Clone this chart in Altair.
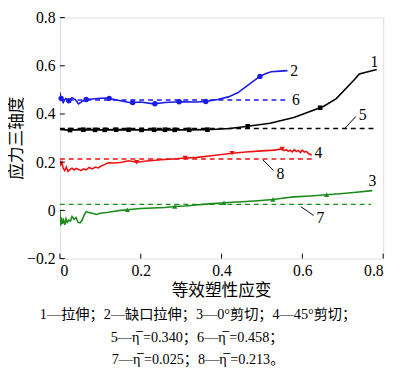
import altair as alt
import pandas as pd

# ---- data ----
c1_x = [0, 0.02, 0.05, 0.1, 0.15, 0.2, 0.25, 0.3, 0.365, 0.42, 0.465, 0.52, 0.579, 0.652, 0.684, 0.729, 0.741, 0.784]
c1_y = [0.336, 0.333, 0.335, 0.334, 0.335, 0.334, 0.335, 0.334, 0.335, 0.340, 0.349, 0.362, 0.385, 0.431, 0.464, 0.543, 0.566, 0.585]
c1_mx = [0.025, 0.058, 0.087, 0.111, 0.139, 0.17, 0.202, 0.233, 0.26, 0.284, 0.32, 0.365, 0.465, 0.644]

c2_x = [0, 0.003, 0.008, 0.014, 0.022, 0.03, 0.038, 0.046, 0.055, 0.065, 0.08, 0.1, 0.119, 0.14, 0.175, 0.2, 0.232,
        0.26, 0.296, 0.337, 0.361, 0.39, 0.417, 0.44, 0.458, 0.478, 0.495, 0.51, 0.523, 0.545, 0.563]
c2_y = [0.49, 0.465, 0.447, 0.464, 0.455, 0.468, 0.46, 0.442, 0.452, 0.46, 0.462, 0.465, 0.466, 0.458, 0.447, 0.45, 0.442,
        0.448, 0.451, 0.45, 0.452, 0.46, 0.471, 0.488, 0.51, 0.535, 0.556, 0.568, 0.575, 0.578, 0.58]
c2_mx = [0.003, 0.022, 0.065, 0.122, 0.18, 0.235, 0.295, 0.361, 0.495]

c3_x = [0, 0.002, 0.004, 0.006, 0.009, 0.012, 0.015, 0.018, 0.022, 0.026, 0.03, 0.035, 0.04, 0.045, 0.05, 0.055,
        0.06, 0.065, 0.07, 0.08, 0.09, 0.1, 0.11, 0.12, 0.135, 0.15, 0.167, 0.2, 0.23, 0.26, 0.284, 0.31, 0.337,
        0.37, 0.406, 0.45, 0.49, 0.527, 0.55, 0.579, 0.62, 0.66, 0.7, 0.74, 0.773]
c3_y = [0.0, -0.063, -0.03, -0.055, -0.04, -0.06, -0.035, -0.05, -0.04, -0.045, -0.025, -0.037, -0.03, -0.05, -0.052,
        -0.04, -0.02, -0.005, -0.008, -0.012, -0.017, -0.012, -0.01, -0.008, -0.004, 0.0, 0.003, 0.008, 0.01, 0.012,
        0.016, 0.018, 0.022, 0.027, 0.032, 0.036, 0.04, 0.045, 0.05, 0.056, 0.06, 0.065, 0.07, 0.076, 0.082]
c3_mx = [0.167, 0.284, 0.406, 0.527, 0.66]

c4_x = [0, 0.002, 0.005, 0.008, 0.012, 0.016, 0.02, 0.025, 0.03, 0.035, 0.04, 0.046, 0.052, 0.058, 0.065, 0.072,
        0.08, 0.088, 0.095, 0.1, 0.11, 0.12, 0.135, 0.15, 0.17, 0.19, 0.215, 0.25, 0.28, 0.31, 0.34, 0.38, 0.426,
        0.46, 0.5, 0.53, 0.55, 0.555, 0.56, 0.565, 0.57, 0.575, 0.58, 0.585, 0.59, 0.595, 0.6, 0.605, 0.61, 0.615,
        0.62, 0.623]
c4_y = [0.207, 0.19, 0.2, 0.175, 0.165, 0.18, 0.162, 0.17, 0.175, 0.168, 0.174, 0.17, 0.165, 0.172, 0.168, 0.178,
        0.172, 0.18, 0.176, 0.182, 0.19, 0.198, 0.197, 0.199, 0.206, 0.2, 0.205, 0.21, 0.213, 0.217, 0.22, 0.228,
        0.237, 0.242, 0.247, 0.25, 0.255, 0.248, 0.252, 0.245, 0.25, 0.243, 0.252, 0.244, 0.249, 0.24, 0.25, 0.242,
        0.245, 0.236, 0.232, 0.228]
c4_mx = [0.19, 0.31, 0.426, 0.55]

ref_labels = ["5", "6", "7", "8"]
ref_eta = [0.340, 0.458, 0.025, 0.213]
ref_xend = [0.785, 0.563, 0.77, 0.623]

x_ticks = [0, 0.2, 0.4, 0.6, 0.8]
y_ticks = [-0.2, 0, 0.2, 0.4, 0.6, 0.8]

x_title = "等效塑性应变"
y_title = "应力三轴度"
caption = ["1—拉伸；2—缺口拉伸；3—0°剪切；4—45°剪切；",
           "5—\u03b7\u0305 =0.340；6—\u03b7\u0305 =0.458；",
           "7—\u03b7\u0305 =0.025；8—\u03b7\u0305 =0.213。"]

BLACK = "#000000"
BLUE = "#1a1ae6"
GREEN = "#1a8c1a"
RED = "#ee1111"
SERIF = "Liberation Serif, Noto Sans CJK SC"

W, H = 330, 246

xs = alt.Scale(domain=[0, 0.8], nice=False)
ys = alt.Scale(domain=[-0.2, 0.8], nice=False)


def interp(xv, yv, x):
    for i in range(len(xv) - 1):
        if xv[i] <= x <= xv[i + 1]:
            t = (x - xv[i]) / (xv[i + 1] - xv[i])
            return yv[i] + t * (yv[i + 1] - yv[i])
    return yv[-1]


def curve(xv, yv, color):
    df = pd.DataFrame({"x": xv, "y": yv})
    return alt.Chart(df).mark_line(color=color, strokeWidth=1.6, clip=True).encode(
        x=alt.X("x:Q", scale=xs), y=alt.Y("y:Q", scale=ys))


def markers(xv, yv, mx, color, shape, size):
    df = pd.DataFrame({"x": mx, "y": [interp(xv, yv, m) for m in mx]})
    return alt.Chart(df).mark_point(color=color, filled=True, opacity=1, shape=shape, size=size).encode(
        x=alt.X("x:Q", scale=xs), y=alt.Y("y:Q", scale=ys))


ref_df = pd.DataFrame({"lab": ref_labels, "y": ref_eta, "x0": [0] * 4, "x1": ref_xend})
ref_colors = [BLACK, BLUE, GREEN, RED]
refs = alt.Chart(ref_df).mark_rule(strokeWidth=1.5, strokeDash=[5, 4]).encode(
    x=alt.X("x0:Q", scale=xs), x2="x1:Q", y=alt.Y("y:Q", scale=ys),
    color=alt.Color("lab:N", scale=alt.Scale(domain=ref_labels, range=ref_colors), legend=None))

one = pd.DataFrame({"a": [0]})


def label(text, px, py, size=16, font=SERIF, angle=0):
    return alt.Chart(one).mark_text(text=text, font=font, fontSize=size, color="black",
                                    align="center", baseline="middle", angle=angle).encode(
        x=alt.value(px), y=alt.value(py))


def leader(x1, y1, x2, y2):
    return alt.Chart(one).mark_rule(color="black", strokeWidth=1).encode(
        x=alt.value(x1), y=alt.value(y1), x2=alt.value(x2), y2=alt.value(y2))


xt = alt.Chart(pd.DataFrame({"x": x_ticks})).mark_rule(color="black", strokeWidth=1).encode(
    x=alt.X("x:Q", scale=xs), y=alt.value(H), y2=alt.value(H - 5))
yt = alt.Chart(pd.DataFrame({"y": y_ticks})).mark_rule(color="black", strokeWidth=1).encode(
    y=alt.Y("y:Q", scale=ys), x=alt.value(0), x2=alt.value(5))

LBL = "datum.value == 0 ? '0' : format(datum.value, '.1f')"
base = alt.Chart(one).mark_point(opacity=0).encode(
    x=alt.X("a:Q", scale=xs, axis=alt.Axis(values=x_ticks, title="", ticks=False, domain=False, grid=False,
                                         labelExpr=LBL, labelFont="Liberation Serif", labelFontSize=16,
                                         labelPadding=4, labelColor="black")),
    y=alt.Y("a:Q", scale=ys, axis=alt.Axis(values=y_ticks, title="", ticks=False, domain=False, grid=False,
                                         labelExpr=LBL, labelFont="Liberation Serif", labelFontSize=16,
                                         labelPadding=5, labelColor="black")),
)

layers = [
    base, refs,
    curve(c1_x, c1_y, BLACK), markers(c1_x, c1_y, c1_mx, BLACK, "square", 22),
    curve(c2_x, c2_y, BLUE), markers(c2_x, c2_y, c2_mx, BLUE, "circle", 30),
    curve(c4_x, c4_y, RED), markers(c4_x, c4_y, c4_mx, RED, "triangle-down", 28),
    curve(c3_x, c3_y, GREEN), markers(c3_x, c3_y, c3_mx, GREEN, "triangle-up", 28),
    xt, yt,
    label("1", 321, 45), label("2", 239, 55), label("6", 241, 84), label("5", 309, 100),
    label("4", 264, 138), label("8", 225, 160), label("3", 319, 167), label("7", 266, 205),
    leader(291, 113, 302, 101), leader(207, 145, 218, 156), leader(246, 193, 259, 202),
    label(x_title, 165, 279, size=17),
    label(y_title, -44, 123, size=17, angle=270),
    label(caption[0], 141, 304, size=14.5), label(caption[1], 140, 327, size=14.5),
    label(caption[2], 141, 350, size=14.5),
]

chart = alt.layer(*layers).properties(
    width=W, height=H,
    autosize=alt.AutoSizeParams(type="none"),
    padding={"left": 53, "top": 6, "right": 9, "bottom": 113},
).configure_view(stroke="black", strokeWidth=1).configure(background="white")

chart.save("out.html", embed_options={"renderer": "svg", "actions": False})
